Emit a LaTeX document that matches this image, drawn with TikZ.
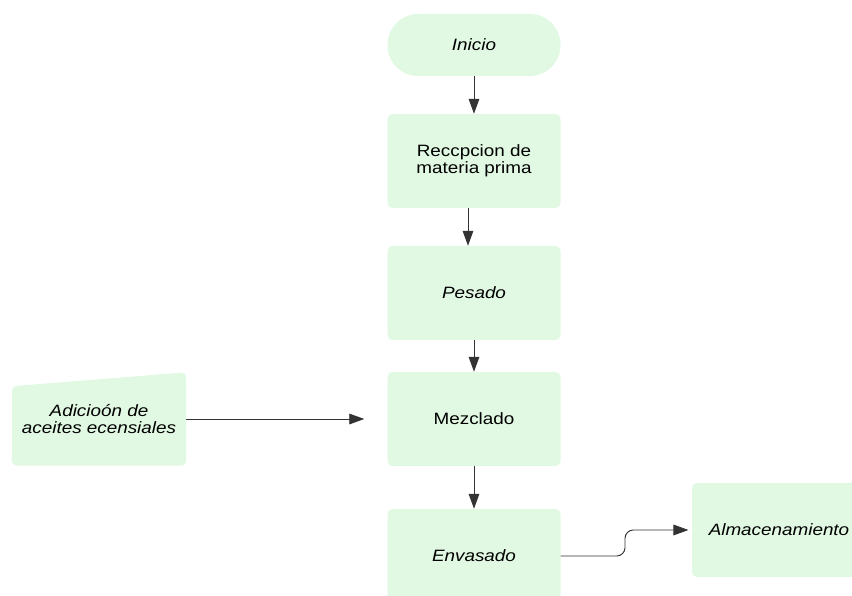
\documentclass[tikz,border=0pt]{standalone}
\usepackage{fontspec}
\setmainfont{Liberation Sans}[FakeStretch=1.15]
\usepackage{xcolor}
\usetikzlibrary{arrows.meta,backgrounds}
\definecolor{stepgreen}{HTML}{E1F9E2}
\definecolor{linegray}{HTML}{333333}

\begin{document}
\begin{tikzpicture}[
    font=\fontsize{14}{14.5}\selectfont,
    stepbox/.style={rectangle, fill=stepgreen, rounded corners=0.15cm, minimum width=5.19cm, minimum height=2.82cm, align=center},
    startbox/.style={rectangle, fill=stepgreen, rounded corners=0.92cm, minimum width=5.19cm, minimum height=1.86cm},
    arrow/.style={draw=linegray, line width=0.8pt, -{Triangle[length=4.5mm, width=3.2mm]}}
]
    \useasboundingbox (0,0) rectangle (25.56,-17.88);
    \clip (0,0) rectangle (25.56,-17.88);

    % Steps
    \node[startbox] (inicio) at (14.22, -1.35) {\itshape Inicio};
    \node[stepbox] (recepcion) at (14.22, -4.83) {Reccpcion de\\materia prima};
    \node[stepbox] (pesado) at (14.22, -8.79) {\itshape Pesado};
    \node[stepbox] (mezclado) at (14.22, -12.57) {Mezclado};
    \node[stepbox] (envasado) at (14.22, -16.68) {\itshape Envasado};
    \node[stepbox, minimum width=5.22cm] (almacen) at (23.37, -15.9) {\itshape Almacenamiento};

    % Manual input
    \node[minimum width=5.22cm, minimum height=2.79cm, align=center, font=\fontsize{14}{14.5}\selectfont\itshape]
        (adicion) at (2.97, -12.57) {Adicioón de\\aceites ecensiales};
    \begin{pgfonlayer}{background}
        \fill[stepgreen, rounded corners=0.15cm] ([yshift=-0.42cm]adicion.north west) -- (adicion.north east)
            -- (adicion.south east) -- (adicion.south west) -- cycle;
    \end{pgfonlayer}

    % Connectors
    \draw[arrow] (inicio) -- (recepcion);
    \draw[arrow] ([xshift=-0.18cm]recepcion.south) -- ([xshift=-0.18cm]pesado.north);
    \draw[arrow] (pesado) -- (mezclado);
    \draw[arrow] (mezclado) -- (envasado);
    \draw[arrow, shorten >=0.69cm] (adicion.east) -- (mezclado.west);
    \draw[arrow, rounded corners=0.25cm, shorten >=0.1cm] (envasado.east) -- (18.75, -16.68) -- (18.75, -15.9) -- (almacen.west);

\end{tikzpicture}
\end{document}
